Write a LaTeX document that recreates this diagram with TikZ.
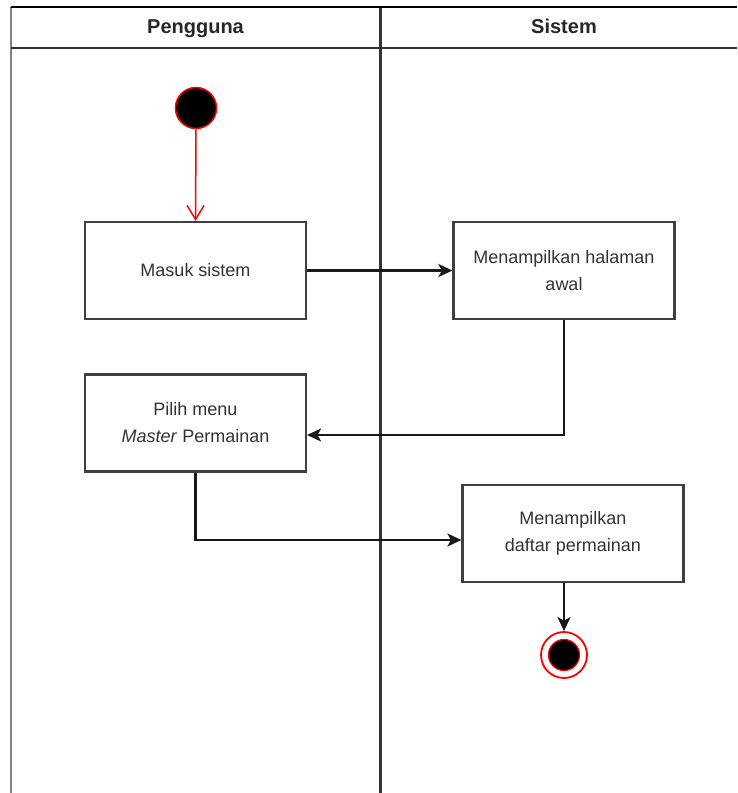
\documentclass[tikz,border=0pt]{standalone}
\usepackage{fontspec}
\setmainfont{Liberation Sans}
\usetikzlibrary{arrows.meta}
\definecolor{txt}{HTML}{333333}
\definecolor{umlred}{HTML}{FF0000}
\begin{document}
\begin{tikzpicture}[x=1pt,y=-1pt,
  action/.style={draw=black!75, line width=2.2pt, fill=white,
    minimum width=221pt, minimum height=97pt, inner sep=0pt,
    text=txt, font=\fontsize{18}{27}\selectfont, align=center},
  flow/.style={-{Stealth[length=14pt,width=13pt,inset=3.5pt]}, line width=2.2pt, black!90},
  startflow/.style={-{Straight Barb[length=14pt,width=17pt,line width=1.5pt]}, line width=1.5pt, umlred},
  lanehead/.style={font=\fontsize{20}{24}\selectfont\bfseries, text=black!85,
    text height=15pt, text depth=4pt, inner sep=0pt},
  initial/.style={circle, fill=black, draw=umlred, line width=1.5pt, minimum size=41pt, inner sep=0pt},
  finalring/.style={circle, fill=white, draw=umlred, line width=1.8pt, minimum size=46pt, inner sep=0pt},
  finaldot/.style={circle, fill=black, draw=umlred, line width=1.2pt, minimum size=31pt, inner sep=0pt}
]
\useasboundingbox (0,0) rectangle (737,793);

% swimlanes
\draw[line width=2.6pt, black!50] (11,7) -- (11,793);
\draw[line width=3pt, black!80] (380,7) -- (380,793);
\draw[line width=2.6pt, black] (11,7) -- (737,7);
\draw[line width=2.6pt, black!80] (11,48) -- (737,48);
\node[lanehead] (laneA) at (195.5,28) {Pengguna};
\node[lanehead] (laneB) at (564,28) {Sistem};

% activities
\node[initial] (start) at (196,108) {};
\node[action] (masuk) at (195.5,270.5) {Masuk sistem};
\node[action] (halaman) at (564,270.5) {Menampilkan halaman\\awal};
\node[action] (pilih) at (195.5,423) {Pilih menu\\\textit{Master} Permainan};
\node[action] (daftar) at (573,533.5) {Menampilkan\\daftar permainan};
\node[finalring] (endring) at (564,655) {};
\node[finaldot] (enddot) at (564,655) {};

% bends of the connectors
\coordinate (bendA) at (halaman.south |- 0,435);
\coordinate (bendB) at (pilih.south |- 0,540);
\coordinate (daftarOut) at (daftar.south -| endring);

% flows
\draw[startflow] (start.south) -- (masuk.north);
\draw[flow] (masuk.east) -- (halaman.west);
\draw[flow] (halaman.south) -- (bendA) -- (bendA -| pilih.east);
\draw[flow] (pilih.south) -- (bendB) -- (bendB -| daftar.west);
\draw[flow] (daftarOut) -- (endring.north);
\end{tikzpicture}
\end{document}
